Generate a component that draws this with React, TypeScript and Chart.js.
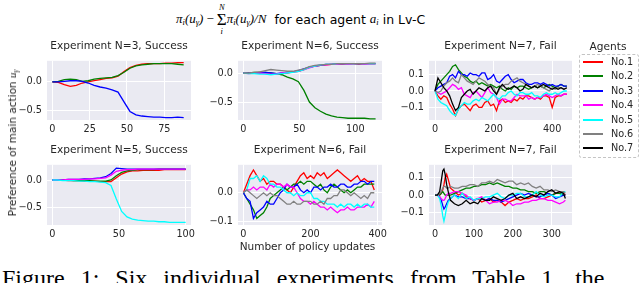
import React, { useEffect, useRef } from 'react';
import { Chart, registerables } from 'chart.js';
Chart.register(...registerables);

const agentNames = ['No.1', 'No.2', 'No.3', 'No.4', 'No.5', 'No.6', 'No.7'];
const agentColors = ['#ff0000', '#008000', '#0000ff', '#ff00ff', '#00ffff', '#808080', '#000000'];

// ---- Panel 1: Experiment N=3, Success ----
const p1Step = 4;
const p1Red = [0, -0.01, -0.05, -0.08, -0.06, -0.02, 0.0, 0.02, 0.04, 0.06, 0.07, 0.1, 0.18, 0.25, 0.29, 0.31, 0.32, 0.32, 0.32, 0.33, 0.33, 0.34, 0.34];
const p1Green = [0, 0.01, 0.04, 0.05, 0.04, 0.01, 0.02, 0.05, 0.06, 0.07, 0.08, 0.11, 0.17, 0.24, 0.28, 0.3, 0.31, 0.32, 0.32, 0.32, 0.32, 0.31, 0.3];
const p1Blue = [0, 0.0, 0.01, 0.02, 0.02, 0.01, -0.02, -0.06, -0.09, -0.11, -0.14, -0.18, -0.35, -0.52, -0.58, -0.6, -0.61, -0.62, -0.62, -0.63, -0.63, -0.62, -0.63];

// ---- Panel 2: Experiment N=6, Success ----
const p2Step = 4.92;
const p2Red = [0, 0.0, 0.0, 0.01, 0.0, -0.02, -0.02, -0.01, 0.0, 0.02, 0.03, 0.06, 0.1, 0.12, 0.13, 0.14, 0.15, 0.15, 0.15, 0.16, 0.16, 0.15, 0.16, 0.16, 0.16];
const p2Green = [0, 0.0, 0.01, 0.01, 0.01, 0.0, -0.01, -0.03, -0.07, -0.1, -0.15, -0.3, -0.5, -0.6, -0.66, -0.71, -0.74, -0.76, -0.77, -0.78, -0.78, -0.78, -0.78, -0.79, -0.79];
const p2Blue = [0, 0.0, 0.0, 0.0, 0.01, 0.0, -0.01, 0.0, 0.01, 0.02, 0.04, 0.07, 0.1, 0.12, 0.13, 0.15, 0.15, 0.16, 0.16, 0.16, 0.16, 0.16, 0.16, 0.16, 0.16];
const p2Magenta = [0, -0.01, 0.0, 0.0, -0.01, -0.02, -0.02, 0.0, 0.01, 0.02, 0.03, 0.06, 0.09, 0.12, 0.14, 0.14, 0.15, 0.15, 0.16, 0.15, 0.16, 0.16, 0.15, 0.16, 0.16];
const p2Cyan = [0, -0.01, -0.01, -0.02, -0.02, -0.03, -0.02, -0.01, 0.0, 0.01, 0.03, 0.06, 0.1, 0.12, 0.14, 0.15, 0.15, 0.16, 0.16, 0.16, 0.16, 0.16, 0.16, 0.16, 0.16];
const p2Gray = [0, 0.0, 0.01, 0.02, 0.04, 0.06, 0.05, 0.04, 0.03, 0.03, 0.05, 0.07, 0.11, 0.13, 0.14, 0.15, 0.15, 0.16, 0.16, 0.16, 0.16, 0.16, 0.16, 0.17, 0.17];

// ---- Panel 3: Experiment N=7, Fail ----
const p3Step = 10;
const p3Red = [0, -0.03, -0.05, -0.03, -0.04, -0.08, -0.11, -0.15, -0.11, -0.09, -0.08, -0.1, -0.12, -0.09, -0.08, -0.1, -0.1, -0.07, -0.06, -0.09, -0.08, -0.12, -0.06, -0.05, -0.07, -0.06, -0.07, -0.05, -0.06, -0.04, -0.05, -0.03, -0.03, -0.04, -0.05, -0.04, -0.05, -0.03, -0.03, -0.04, -0.1, -0.04, -0.03, -0.03, -0.02, -0.02];
const p3Green = [0, 0.04, 0.06, 0.08, 0.1, 0.12, 0.15, 0.16, 0.13, 0.11, 0.09, 0.08, 0.06, 0.05, 0.06, 0.04, 0.05, 0.04, 0.03, 0.04, 0.03, 0.02, 0.03, 0.01, 0.0, 0.02, 0.01, 0.03, 0.02, 0.03, 0.03, 0.02, 0.01, 0.02, 0.03, 0.02, 0.03, 0.02, 0.03, 0.04, 0.03, 0.02, 0.03, 0.04, 0.03, 0.03];
const p3Blue = [0, 0.02, 0.03, 0.04, 0.05, 0.09, 0.1, 0.08, 0.12, 0.1, 0.1, 0.09, 0.11, 0.1, 0.1, 0.09, 0.11, 0.11, 0.07, 0.08, 0.1, 0.06, 0.05, 0.07, 0.09, 0.1, 0.07, 0.05, 0.06, 0.07, 0.07, 0.05, 0.04, 0.04, 0.05, 0.05, 0.04, 0.05, 0.04, 0.03, 0.04, 0.03, 0.03, 0.04, 0.03, 0.03];
const p3Magenta = [0, -0.01, -0.02, -0.01, 0.0, 0.02, 0.04, 0.03, 0.01, 0.02, -0.02, -0.03, -0.04, -0.01, 0.0, -0.02, -0.04, -0.01, 0.02, -0.01, -0.02, -0.04, -0.08, -0.05, -0.05, -0.06, -0.06, -0.04, -0.02, -0.03, -0.03, -0.03, -0.05, -0.04, -0.05, -0.04, -0.04, -0.03, -0.02, -0.03, -0.04, -0.03, -0.02, -0.03, -0.02, -0.02];
const p3Cyan = [0, -0.05, -0.07, -0.08, -0.09, -0.12, -0.14, -0.15, -0.11, -0.09, -0.07, -0.08, -0.08, -0.06, -0.05, -0.06, -0.04, -0.05, -0.06, -0.04, -0.02, -0.04, -0.05, -0.03, -0.03, -0.01, 0.0, -0.02, -0.03, -0.01, -0.01, -0.02, -0.02, -0.01, -0.03, -0.03, -0.04, -0.02, -0.01, -0.02, -0.02, -0.01, -0.02, -0.01, 0.0, 0.0];
const p3Gray = [0, -0.01, 0.0, 0.03, 0.05, 0.06, 0.08, 0.06, 0.05, 0.1, 0.08, 0.06, 0.05, 0.04, 0.06, 0.08, 0.07, 0.06, 0.04, 0.03, 0.02, -0.02, 0.01, 0.03, 0.04, 0.04, 0.06, 0.07, 0.08, 0.06, 0.05, 0.04, 0.03, 0.02, 0.03, 0.04, 0.03, 0.02, 0.01, 0.0, 0.02, 0.01, 0.02, 0.02, 0.01, 0.02];
const p3Black = [0, 0.08, 0.05, 0.02, 0.0, -0.03, -0.08, -0.12, -0.1, -0.04, -0.02, 0.0, 0.01, -0.02, 0.0, 0.02, 0.01, 0.0, 0.02, 0.03, 0.0, -0.02, 0.02, 0.04, 0.02, 0.01, 0.02, 0.03, 0.02, 0.0, 0.01, 0.04, 0.03, 0.02, 0.03, 0.02, 0.03, 0.04, 0.03, 0.02, 0.01, 0.02, 0.01, 0.02, 0.01, 0.02];

// ---- Panel 4: Experiment N=5, Success ----
const p4Step = 4;
const p4Red = [0, 0, 0, -0.01, -0.01, -0.01, -0.02, -0.02, -0.02, -0.03, -0.03, -0.03, 0.04, 0.11, 0.15, 0.17, 0.17, 0.18, 0.18, 0.18, 0.18, 0.19, 0.19, 0.19, 0.19, 0.19];
const p4Green = [0, 0, 0, 0, -0.01, -0.01, -0.01, -0.01, -0.02, -0.02, -0.02, 0.0, 0.08, 0.14, 0.17, 0.18, 0.19, 0.19, 0.19, 0.19, 0.2, 0.2, 0.2, 0.2, 0.2, 0.2];
const p4Blue = [0, 0, 0.0, 0.01, 0.01, 0.01, 0.02, 0.02, 0.03, 0.04, 0.06, 0.12, 0.22, 0.21, 0.2, 0.2, 0.2, 0.2, 0.2, 0.2, 0.2, 0.2, 0.2, 0.2, 0.2, 0.2];
const p4Magenta = [0, 0, 0.0, 0.01, 0.01, 0.01, 0.01, 0.02, 0.02, 0.03, 0.04, 0.09, 0.16, 0.18, 0.19, 0.19, 0.2, 0.2, 0.2, 0.2, 0.2, 0.2, 0.2, 0.2, 0.2, 0.2];
const p4Cyan = [0, 0, -0.01, -0.01, -0.01, -0.02, -0.02, -0.03, -0.03, -0.04, -0.05, -0.1, -0.35, -0.58, -0.68, -0.72, -0.74, -0.75, -0.76, -0.76, -0.77, -0.77, -0.78, -0.78, -0.78, -0.78];

// ---- Panel 5: Experiment N=6, Fail ----
const p5Step = 10;
const p5Red = [0, 0.03, 0.06, 0.08, 0.06, 0.04, 0.05, 0.03, 0.04, 0.04, 0.03, 0.03, 0.02, 0.01, 0.0, 0.02, 0.04, 0.06, 0.07, 0.05, 0.06, 0.05, 0.07, 0.06, 0.07, 0.05, 0.06, 0.07, 0.08, 0.07, 0.06, 0.05, 0.04, 0.05, 0.06, 0.04, 0.05, 0.04, 0.04, 0.01];
const p5Green = [0, -0.02, -0.04, -0.06, -0.09, -0.08, -0.07, -0.05, -0.02, -0.01, 0.0, 0.01, 0.02, 0.01, 0.02, 0.03, 0.03, 0.04, 0.03, 0.04, 0.04, 0.03, 0.02, 0.03, 0.01, 0.0, 0.02, 0.03, 0.02, 0.01, 0.0, 0.01, 0.0, 0.01, 0.02, 0.02, 0.03, 0.03, 0.03, 0.03];
const p5Blue = [0, -0.02, -0.03, -0.09, -0.07, -0.06, -0.05, -0.03, -0.04, -0.04, -0.02, 0.0, 0.01, 0.03, 0.02, 0.02, 0.03, 0.01, 0.0, 0.01, 0.0, 0.02, 0.02, 0.01, 0.02, 0.02, 0.03, 0.02, 0.02, 0.03, 0.03, 0.02, 0.02, 0.03, 0.03, 0.04, 0.04, 0.03, 0.04, 0.04];
const p5Magenta = [0, 0.01, 0.01, 0.02, 0.01, 0.02, 0.02, 0.01, 0.03, 0.02, 0.03, 0.03, 0.02, 0.03, 0.02, 0.02, 0.0, -0.02, -0.03, -0.03, -0.04, -0.03, -0.04, -0.05, -0.05, -0.06, -0.05, -0.06, -0.07, -0.06, -0.06, -0.05, -0.06, -0.06, -0.05, -0.05, -0.05, -0.04, -0.05, -0.03];
const p5Cyan = [0, 0.01, 0.05, 0.05, 0.06, 0.04, 0.06, 0.05, 0.03, 0.03, 0.02, 0.02, 0.01, 0.0, 0.0, -0.01, 0.0, -0.01, -0.01, 0.0, 0.0, -0.02, -0.02, -0.03, -0.03, -0.04, -0.04, -0.04, -0.05, -0.04, -0.05, -0.04, -0.04, -0.05, -0.04, -0.05, -0.04, -0.04, -0.05, -0.05];
const p5Gray = [0, 0.01, 0.0, -0.01, -0.02, -0.01, 0.0, -0.01, 0.0, -0.01, -0.01, -0.02, -0.03, -0.04, -0.04, -0.03, -0.04, -0.04, -0.03, -0.03, -0.03, -0.04, -0.04, -0.03, -0.04, -0.02, -0.02, -0.01, -0.01, 0.01, 0.01, 0.0, -0.01, 0.0, -0.01, -0.02, -0.01, -0.02, 0.0, 0.0];

// ---- Panel 6: Experiment N=7, Fail ----
const p6X = [0, 6, 12, 16, 20, 23, 26, 30, 34, 40, 50, 60, 70, 80, 90, 100, 110, 120, 130, 140, 150, 160, 170, 180, 190, 200, 210, 220, 230, 240, 250, 260, 270, 280, 290, 300, 310, 320, 330, 335];
const p6Red = [0, 0.0, 0.0, 0.01, 0.03, 0.06, 0.1, 0.12, 0.09, 0.04, 0.02, 0.0, 0.01, -0.01, -0.02, -0.03, -0.02, -0.04, -0.03, -0.02, -0.04, -0.03, -0.04, -0.06, -0.04, -0.03, -0.02, -0.03, -0.02, -0.02, -0.01, 0.0, -0.02, -0.02, -0.01, 0.0, 0.01, 0.02, 0.01, 0.0];
const p6Green = [0, 0.0, 0.0, 0.01, 0.02, 0.01, 0.0, 0.0, 0.0, 0.0, 0.01, 0.02, 0.03, 0.04, 0.04, 0.05, 0.05, 0.06, 0.06, 0.07, 0.06, 0.07, 0.06, 0.05, 0.05, 0.04, 0.04, 0.03, 0.03, 0.02, 0.02, 0.01, 0.02, 0.02, 0.01, 0.0, 0.01, 0.01, 0.0, 0.0];
const p6Blue = [0, 0.0, -0.01, -0.03, -0.06, -0.08, -0.07, -0.05, -0.03, -0.02, 0.0, -0.01, -0.01, -0.02, -0.02, -0.03, -0.02, -0.02, -0.03, -0.02, -0.03, -0.03, -0.04, -0.03, -0.02, -0.01, 0.0, 0.01, 0.0, 0.01, 0.0, -0.01, -0.01, 0.0, 0.01, 0.0, -0.02, -0.01, 0.0, 0.0];
const p6Magenta = [0, 0.0, -0.01, -0.02, -0.03, -0.03, -0.02, 0.0, 0.01, 0.01, 0.02, 0.02, 0.01, 0.0, -0.02, -0.03, -0.02, -0.01, -0.03, -0.05, -0.04, -0.04, -0.03, -0.03, -0.04, -0.06, -0.05, -0.05, -0.04, -0.04, -0.03, -0.03, -0.02, -0.02, -0.03, -0.03, -0.04, -0.05, -0.04, -0.03];
const p6Cyan = [0, 0.0, -0.02, -0.06, -0.12, -0.15, -0.12, -0.07, -0.04, -0.02, 0.0, -0.02, 0.01, -0.02, -0.01, -0.03, -0.02, -0.02, -0.01, -0.01, 0.0, 0.01, -0.01, -0.02, 0.0, 0.0, 0.01, 0.01, -0.01, -0.01, 0.0, 0.02, 0.0, -0.01, 0.0, 0.0, -0.01, -0.01, 0.02, 0.02];
const p6Gray = [0, 0.0, 0.01, 0.02, 0.04, 0.05, 0.05, 0.04, 0.04, 0.05, 0.04, 0.04, 0.05, 0.05, 0.06, 0.06, 0.05, 0.07, 0.07, 0.08, 0.07, 0.09, 0.08, 0.07, 0.08, 0.08, 0.06, 0.07, 0.06, 0.07, 0.05, 0.04, 0.05, 0.03, 0.03, 0.02, 0.03, 0.02, 0.02, 0.01];
const p6Black = [0, 0.0, 0.02, 0.08, 0.14, 0.15, 0.12, 0.06, 0.02, -0.03, -0.05, -0.06, -0.05, -0.03, -0.05, -0.04, -0.05, -0.02, -0.03, -0.03, -0.01, -0.02, -0.03, -0.02, 0.0, 0.01, -0.02, -0.01, -0.02, -0.01, 0.0, -0.01, 0.01, 0.0, 0.02, 0.03, 0.01, 0.02, 0.01, -0.02];

// tick values
const p1XTicks = [0, 25, 50, 75];
const p2XTicks = [0, 50, 100];
const p3XTicks = [0, 200, 400];
const p4XTicks = [0, 50, 100];
const p5XTicks = [0, 200, 400];
const p6XTicks = [0, 100, 200, 300];
const bigYTicks = [-0.5, 0.0];
const smallYTicks3 = [-0.1, 0.0, 0.1];
const smallYTicks2 = [-0.1, 0.0];

const stepX = (n: number, step: number) => Array.from({ length: n }, (_, i) => i * step);

type Panel = {
  title: string; left: number; top: number; w: number; h: number;
  xMin: number; xMax: number; yMin: number; yMax: number;
  xTicks: number[]; yTicks: number[]; xs: number[]; series: number[][];
};

const ROW1 = 54, ROW2 = 158, H1 = 66, H2 = 67;
const COL1 = 47, COL2 = 238, COL3 = 429, W = 144;

const panels: Panel[] = [
  { title: 'Experiment N=3, Success', left: COL1, top: ROW1, w: W, h: H1, xMin: -3.6, xMax: 92.9, yMin: -0.67, yMax: 0.37, xTicks: p1XTicks, yTicks: bigYTicks, xs: stepX(p1Red.length, p1Step), series: [p1Red, p1Green, p1Blue] },
  { title: 'Experiment N=6, Success', left: COL2, top: ROW1, w: W, h: H1, xMin: -4.7, xMax: 123.8, yMin: -0.81, yMax: 0.21, xTicks: p2XTicks, yTicks: bigYTicks, xs: stepX(p2Red.length, p2Step), series: [p2Red, p2Green, p2Blue, p2Magenta, p2Cyan, p2Gray] },
  { title: 'Experiment N=7, Fail', left: COL3, top: ROW1, w: 143, h: H1, xMin: -20.5, xMax: 467.6, yMin: -0.177, yMax: 0.184, xTicks: p3XTicks, yTicks: smallYTicks3, xs: stepX(p3Red.length, p3Step), series: [p3Red, p3Green, p3Blue, p3Magenta, p3Cyan, p3Gray, p3Black] },
  { title: 'Experiment N=5, Success', left: COL1, top: ROW2, w: W, h: H2, xMin: -4.0, xMax: 104, yMin: -0.83, yMax: 0.28, xTicks: p4XTicks, yTicks: bigYTicks, xs: stepX(p4Red.length, p4Step), series: [p4Red, p4Green, p4Blue, p4Magenta, p4Cyan] },
  { title: 'Experiment N=6, Fail', left: COL2, top: ROW2, w: W, h: H2, xMin: -16, xMax: 413, yMin: -0.113, yMax: 0.098, xTicks: p5XTicks, yTicks: smallYTicks2, xs: stepX(p5Red.length, p5Step), series: [p5Red, p5Green, p5Blue, p5Magenta, p5Cyan, p5Gray] },
  { title: 'Experiment N=7, Fail', left: COL3, top: ROW2, w: 143, h: H2, xMin: -15.4, xMax: 352, yMin: -0.172, yMax: 0.174, xTicks: p6XTicks, yTicks: smallYTicks3, xs: p6X, series: [p6Red, p6Green, p6Blue, p6Magenta, p6Cyan, p6Gray, p6Black] },
];

const Y_W = 44, PAD_T = 4, PAD_R = 14, X_H = 20;
const FONT = "'DejaVu Sans', sans-serif";
const TXT = '#262626';

const fmtY = (v: number) => (Math.abs(v) < 1e-9 ? '0.0' : (v < 0 ? '\u2212' : '') + Math.abs(v).toFixed(1));

const bgPlugin = {
  id: 'bgfill',
  beforeDraw(chart: any) {
    const { ctx, chartArea } = chart;
    if (!chartArea) return;
    ctx.save();
    ctx.fillStyle = '#EAEAF2';
    ctx.fillRect(chartArea.left, chartArea.top, chartArea.right - chartArea.left, chartArea.bottom - chartArea.top);
    ctx.restore();
  },
};

function PanelChart({ p }: { p: Panel }) {
  const ref = useRef<HTMLCanvasElement | null>(null);
  const cw = Y_W + p.w + PAD_R;
  const ch = PAD_T + p.h + X_H;
  useEffect(() => {
    if (!ref.current) return;
    const chart = new Chart(ref.current, {
      type: 'line',
      data: {
        datasets: p.series.map((ys, i) => ({
          label: agentNames[i],
          data: ys.map((y, j) => ({ x: p.xs[j], y })),
          borderColor: agentColors[i],
          backgroundColor: agentColors[i],
          borderWidth: 1.3,
          pointRadius: 0,
          tension: 0,
          fill: false,
          order: -i,
        })),
      },
      options: {
        responsive: false,
        animation: false,
        events: [],
        layout: { padding: { left: 0, top: PAD_T, right: PAD_R, bottom: 0 } },
        plugins: { legend: { display: false }, tooltip: { enabled: false }, title: { display: false } },
        scales: {
          x: {
            type: 'linear', min: p.xMin, max: p.xMax,
            border: { display: false },
            grid: { color: '#ffffff', lineWidth: 1, drawTicks: false },
            ticks: { padding: 4, color: TXT, font: { family: FONT, size: 9.7 }, maxRotation: 0, autoSkip: false, callback: (v: any) => String(v) },
            afterBuildTicks: (s: any) => { s.ticks = p.xTicks.map((v) => ({ value: v })); },
            afterFit: (s: any) => { s.height = X_H; },
          },
          y: {
            type: 'linear', min: p.yMin, max: p.yMax,
            border: { display: false },
            grid: { color: '#ffffff', lineWidth: 1, drawTicks: false },
            ticks: { padding: 5, color: TXT, font: { family: FONT, size: 9.7 }, autoSkip: false, callback: (v: any) => fmtY(Number(v)) },
            afterBuildTicks: (s: any) => { s.ticks = p.yTicks.map((v) => ({ value: v })); },
            afterFit: (s: any) => { s.width = Y_W; },
          },
        },
      } as any,
      plugins: [bgPlugin],
    });
    return () => chart.destroy();
  }, []);
  return (
    <>
      <canvas ref={ref} width={cw} height={ch}
        style={{ position: 'absolute', left: p.left - Y_W, top: p.top - PAD_T, width: cw, height: ch }} />
      <div style={{ position: 'absolute', left: p.left, width: p.w, top: p.top - 15, textAlign: 'center', fontFamily: FONT, fontSize: 10.6, color: TXT, lineHeight: '12px', whiteSpace: 'nowrap' }}>{p.title}</div>
    </>
  );
}

const M = "'Liberation Serif', 'Times New Roman', serif";
const sub = (t: string, size = 8.5) => <sub style={{ fontSize: size, verticalAlign: '-2px', lineHeight: 0 }}>{t}</sub>;

export default function App() {
  return (
    <div style={{ position: 'absolute', left: 0, top: 0, width: 640, height: 283, overflow: 'hidden', background: '#fff', fontFamily: FONT }}>
      {/* main title */}
      <div style={{ position: 'absolute', left: 176, top: 2, height: 34, display: 'flex', alignItems: 'center', whiteSpace: 'nowrap', color: '#000' }}>
        <span style={{ fontFamily: M, fontStyle: 'italic', fontSize: 13 }}>π{sub('i')}(u{sub('γ')})</span>
        <span style={{ fontFamily: M, fontSize: 13, margin: '0 3px' }}>−</span>
        <span style={{ display: 'inline-flex', flexDirection: 'column', alignItems: 'center', lineHeight: 1, fontFamily: M }}>
          <span style={{ fontSize: 8.5, fontStyle: 'italic' }}>N</span>
          <span style={{ fontSize: 17, lineHeight: '15px' }}>Σ</span>
          <span style={{ fontSize: 8.5, fontStyle: 'italic' }}>i</span>
        </span>
        <span style={{ fontFamily: M, fontStyle: 'italic', fontSize: 13 }}>π{sub('i')}(u{sub('γ')})/N</span>
        <span style={{ fontSize: 12.5, marginLeft: 8 }}>for each agent </span>
        <span style={{ fontFamily: M, fontStyle: 'italic', fontSize: 13, marginLeft: 4 }}>a{sub('i')}</span>
        <span style={{ fontSize: 12.5, marginLeft: 4 }}>in Lv-C</span>
      </div>

      {panels.map((p, i) => <PanelChart key={i} p={p} />)}

      {/* y axis label */}
      <div style={{ position: 'absolute', left: 12, top: 143, transform: 'translate(-50%, -50%) rotate(-90deg)', whiteSpace: 'nowrap', fontSize: 10.5, color: TXT }}>
        Preference of main action <span style={{ fontFamily: M, fontStyle: 'italic', fontSize: 11 }}>u{sub('γ', 7.5)}</span>
      </div>

      {/* x axis label */}
      <div style={{ position: 'absolute', left: 307.5, top: 246, transform: 'translate(-50%, -50%)', whiteSpace: 'nowrap', fontSize: 10.5, color: TXT }}>
        Number of policy updates
      </div>

      {/* legend */}
      <div style={{ position: 'absolute', left: 578, width: 60, top: 40, textAlign: 'center', fontSize: 10.6, color: TXT, lineHeight: '13px' }}>Agents</div>
      <div style={{ position: 'absolute', left: 579, top: 54, width: 58, height: 102, border: '1px dashed #c4c4c4', borderRadius: 3, background: '#fff' }} />
      {agentNames.map((n, i) => (
        <React.Fragment key={n}>
          <div style={{ position: 'absolute', left: 583, top: Math.round(61 + i * 14.4), width: 20, height: 2, background: agentColors[i] }} />
          <div style={{ position: 'absolute', left: 611, top: Math.round(56 + i * 14.4), fontSize: 9.7, lineHeight: '12px', color: TXT, whiteSpace: 'nowrap' }}>{n}</div>
        </React.Fragment>
      ))}

      {/* caption (cut off by the frame) */}
      <div style={{ position: 'absolute', left: 2, top: 266, fontFamily: M, fontSize: 24, lineHeight: '24px', color: '#000', whiteSpace: 'nowrap', wordSpacing: '10px' }}>
        Figure 1: Six individual experiments from Table 1, the
      </div>
    </div>
  );
}
